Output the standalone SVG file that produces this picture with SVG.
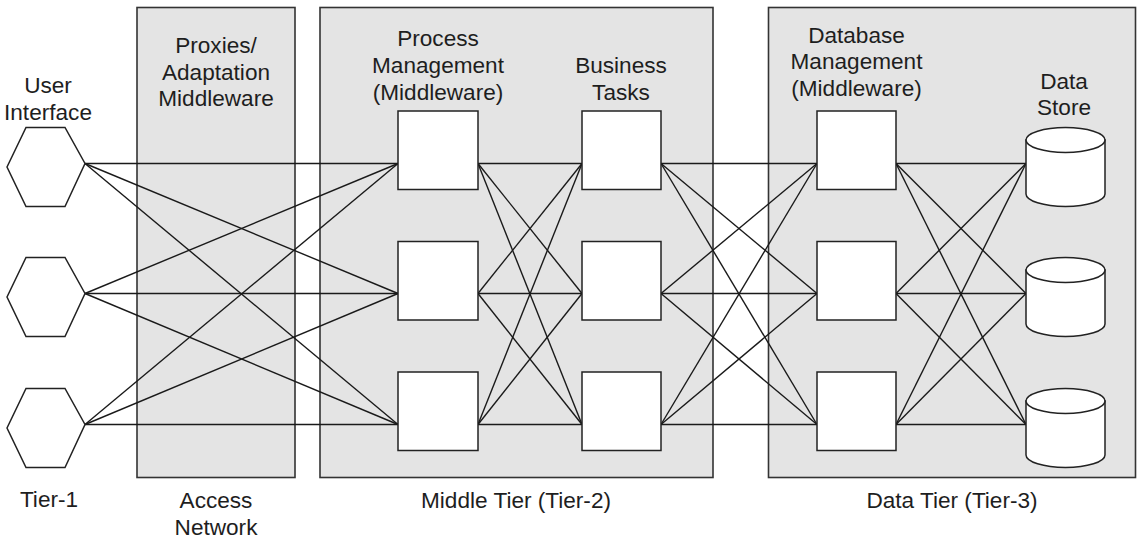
<svg xmlns="http://www.w3.org/2000/svg" width="1142" height="545" viewBox="0 0 1142 545">
<style>
.panel{fill:#e4e4e4;stroke:#333;stroke-width:1.6}
.box{fill:#fff;stroke:#222;stroke-width:1.5}
.hex{fill:#fff;stroke:#222;stroke-width:1.5}
.cyl{fill:#fff;stroke:#222;stroke-width:1.5}
.conn line{stroke:#1a1a1a;stroke-width:1.4}
text{font-family:"Liberation Sans",Arial,Helvetica,sans-serif;font-size:22.6px;fill:#1e1e1e;text-anchor:middle}
</style>
<rect width="1142" height="545" fill="#fff"/>
<g id="panel-access">
<rect class="panel" x="137" y="7.5" width="158" height="470"/>
<text x="216" y="53">Proxies/</text>
<text x="216" y="79.5">Adaptation</text>
<text x="216" y="106">Middleware</text>
<text x="216" y="508">Access</text>
<text x="216" y="535">Network</text>
</g>
<g id="panel-middle">
<rect class="panel" x="320" y="7.5" width="393" height="470"/>
<text x="438" y="45.5">Process</text>
<text x="438" y="72.5">Management</text>
<text x="438" y="99.5">(Middleware)</text>
<text x="621" y="73">Business</text>
<text x="621" y="100">Tasks</text>
<text x="516" y="508">Middle Tier (Tier-2)</text>
</g>
<g id="panel-data">
<rect class="panel" x="768.5" y="7.5" width="367" height="470"/>
<text x="856.5" y="42.5">Database</text>
<text x="856.5" y="69">Management</text>
<text x="856.5" y="96">(Middleware)</text>
<text x="1064" y="88.5">Data</text>
<text x="1064" y="115">Store</text>
<text x="952" y="508">Data Tier (Tier-3)</text>
</g>
<g id="tier1-labels">
<text x="48" y="93">User</text>
<text x="48" y="120">Interface</text>
<text x="49" y="507">Tier-1</text>
</g>
<g id="connectors" class="conn">
<line x1="85" y1="163.5" x2="398" y2="163.5"/>
<line x1="85" y1="163.5" x2="398" y2="293.5"/>
<line x1="85" y1="163.5" x2="398" y2="424.5"/>
<line x1="85" y1="293.5" x2="398" y2="163.5"/>
<line x1="85" y1="293.5" x2="398" y2="293.5"/>
<line x1="85" y1="293.5" x2="398" y2="424.5"/>
<line x1="85" y1="424.5" x2="398" y2="163.5"/>
<line x1="85" y1="424.5" x2="398" y2="293.5"/>
<line x1="85" y1="424.5" x2="398" y2="424.5"/>
<line x1="478" y1="163.5" x2="582" y2="163.5"/>
<line x1="478" y1="163.5" x2="582" y2="293.5"/>
<line x1="478" y1="163.5" x2="582" y2="424.5"/>
<line x1="478" y1="293.5" x2="582" y2="163.5"/>
<line x1="478" y1="293.5" x2="582" y2="293.5"/>
<line x1="478" y1="293.5" x2="582" y2="424.5"/>
<line x1="478" y1="424.5" x2="582" y2="163.5"/>
<line x1="478" y1="424.5" x2="582" y2="293.5"/>
<line x1="478" y1="424.5" x2="582" y2="424.5"/>
<line x1="661" y1="163.5" x2="817" y2="163.5"/>
<line x1="661" y1="163.5" x2="817" y2="293.5"/>
<line x1="661" y1="163.5" x2="817" y2="424.5"/>
<line x1="661" y1="293.5" x2="817" y2="163.5"/>
<line x1="661" y1="293.5" x2="817" y2="293.5"/>
<line x1="661" y1="293.5" x2="817" y2="424.5"/>
<line x1="661" y1="424.5" x2="817" y2="163.5"/>
<line x1="661" y1="424.5" x2="817" y2="293.5"/>
<line x1="661" y1="424.5" x2="817" y2="424.5"/>
<line x1="896" y1="163.5" x2="1026" y2="163.5"/>
<line x1="896" y1="163.5" x2="1026" y2="293.5"/>
<line x1="896" y1="163.5" x2="1026" y2="424.5"/>
<line x1="896" y1="293.5" x2="1026" y2="163.5"/>
<line x1="896" y1="293.5" x2="1026" y2="293.5"/>
<line x1="896" y1="293.5" x2="1026" y2="424.5"/>
<line x1="896" y1="424.5" x2="1026" y2="163.5"/>
<line x1="896" y1="424.5" x2="1026" y2="293.5"/>
<line x1="896" y1="424.5" x2="1026" y2="424.5"/>
</g>
<g id="ui1"><polygon class="hex" points="7,167 26,127.5 65,127.5 85,163.5 65,206.5 26,206.5"/></g>
<g id="ui2"><polygon class="hex" points="7,297 26,257.5 65,257.5 85,293.5 65,336.5 26,336.5"/></g>
<g id="ui3"><polygon class="hex" points="7,428 26,388.5 65,388.5 85,424.5 65,467.5 26,467.5"/></g>
<g id="pm1"><rect class="box" x="398" y="111" width="80" height="78.5"/></g>
<g id="pm2"><rect class="box" x="398" y="241.5" width="80" height="78.5"/></g>
<g id="pm3"><rect class="box" x="398" y="372" width="80" height="78.5"/></g>
<g id="bt1"><rect class="box" x="582" y="111" width="79" height="78.5"/></g>
<g id="bt2"><rect class="box" x="582" y="241.5" width="79" height="78.5"/></g>
<g id="bt3"><rect class="box" x="582" y="372" width="79" height="78.5"/></g>
<g id="db1"><rect class="box" x="817" y="111" width="79" height="78.5"/></g>
<g id="db2"><rect class="box" x="817" y="241.5" width="79" height="78.5"/></g>
<g id="db3"><rect class="box" x="817" y="372" width="79" height="78.5"/></g>
<g id="ds1">
<path class="cyl" d="M1026,140 L1026,194 A39.5,12.5 0 0 0 1105,194 L1105,140 Z"/>
<ellipse class="cyl" cx="1065.5" cy="140" rx="39.5" ry="12.5"/>
</g>
<g id="ds2">
<path class="cyl" d="M1026,270 L1026,324 A39.5,12.5 0 0 0 1105,324 L1105,270 Z"/>
<ellipse class="cyl" cx="1065.5" cy="270" rx="39.5" ry="12.5"/>
</g>
<g id="ds3">
<path class="cyl" d="M1026,401 L1026,455 A39.5,12.5 0 0 0 1105,455 L1105,401 Z"/>
<ellipse class="cyl" cx="1065.5" cy="401" rx="39.5" ry="12.5"/>
</g>
</svg>
